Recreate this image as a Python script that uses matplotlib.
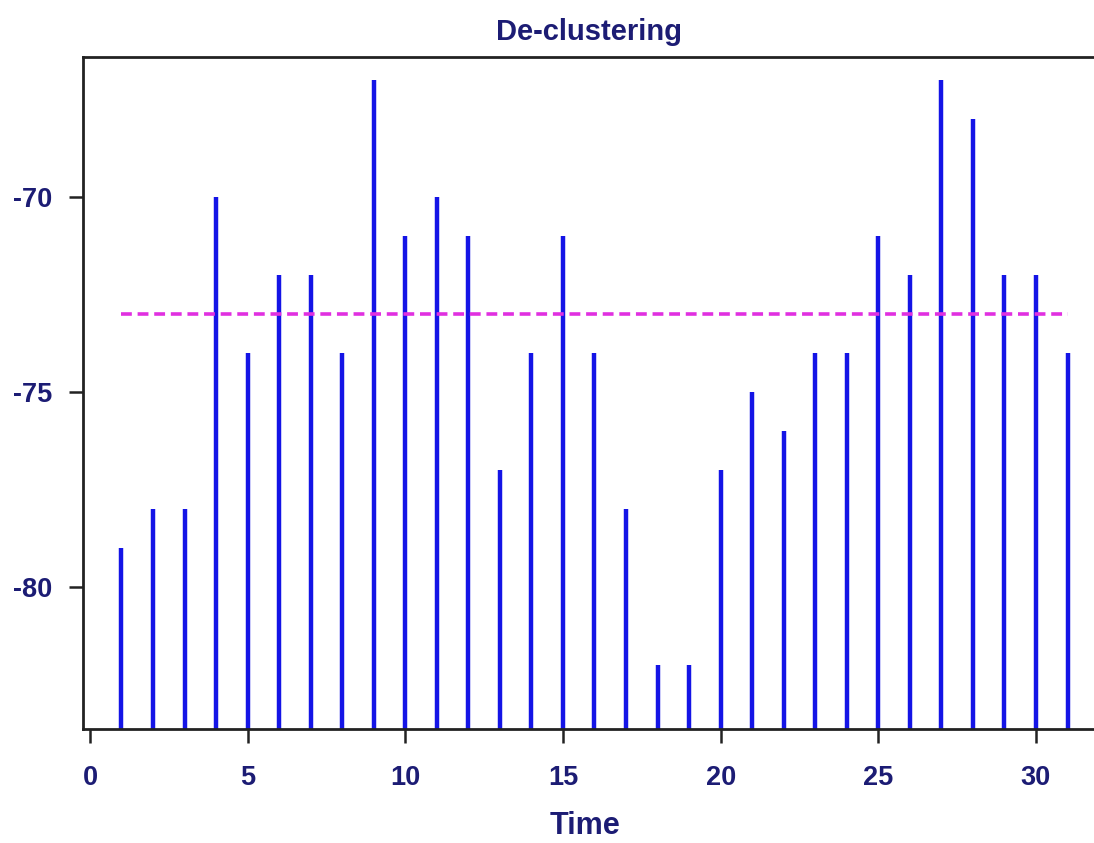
import matplotlib.pyplot as plt
import numpy as np

# readings per time step
time = list(range(1, 32))
values = [-79, -78, -78, -70, -74, -72, -72, -74, -67, -71,
          -70, -71, -77, -74, -71, -74, -78, -82, -82, -77,
          -75, -76, -74, -74, -71, -72, -67, -68, -72, -72, -74]
threshold = -73

x_ticks = [0, 5, 10, 15, 20, 25, 30]
y_ticks = [-80, -75, -70]

navy = '#1c1c74'
stem_color = '#1414e6'
line_color = '#e030e0'

plt.rcParams['font.family'] = ['Liberation Sans', 'DejaVu Sans']
plt.rcParams['axes.unicode_minus'] = False

fig = plt.figure(figsize=(10.94, 8.43), dpi=100)
ax = fig.add_axes([83 / 1094, 114 / 843, 1011 / 1094, 672 / 843])

y_bottom, y_top = -83.64, -66.41
ax.vlines(time, y_bottom, values, color=stem_color, linewidth=3.2)
ax.plot([time[0], time[-1]], [threshold, threshold], color=line_color,
        linewidth=2.6, dashes=(3, 1.6))

ax.set_xlim(-0.22, 31.84)
ax.set_ylim(y_bottom, y_top)

ax.set_xticks(x_ticks)
ax.set_yticks(y_ticks)
ax.tick_params(axis='both', direction='out', length=10, width=1.8,
               colors='#222222', labelcolor=navy, labelsize=19.5)
ax.tick_params(axis='x', pad=16)
ax.tick_params(axis='y', pad=12)
for lab in ax.get_xticklabels() + ax.get_yticklabels():
    lab.set_fontweight('bold')

ax.spines['right'].set_visible(False)
for s in ['left', 'top', 'bottom']:
    ax.spines[s].set_linewidth(2)
    ax.spines[s].set_color('#222222')

ax.set_title('De-clustering', fontsize=21, fontweight='bold', color=navy, pad=12)
fig.text(585 / 1094, 1 - 826 / 843, 'Time', fontsize=22, fontweight='bold',
         color=navy, ha='center', va='center')

fig.savefig('out.png', dpi=100)
